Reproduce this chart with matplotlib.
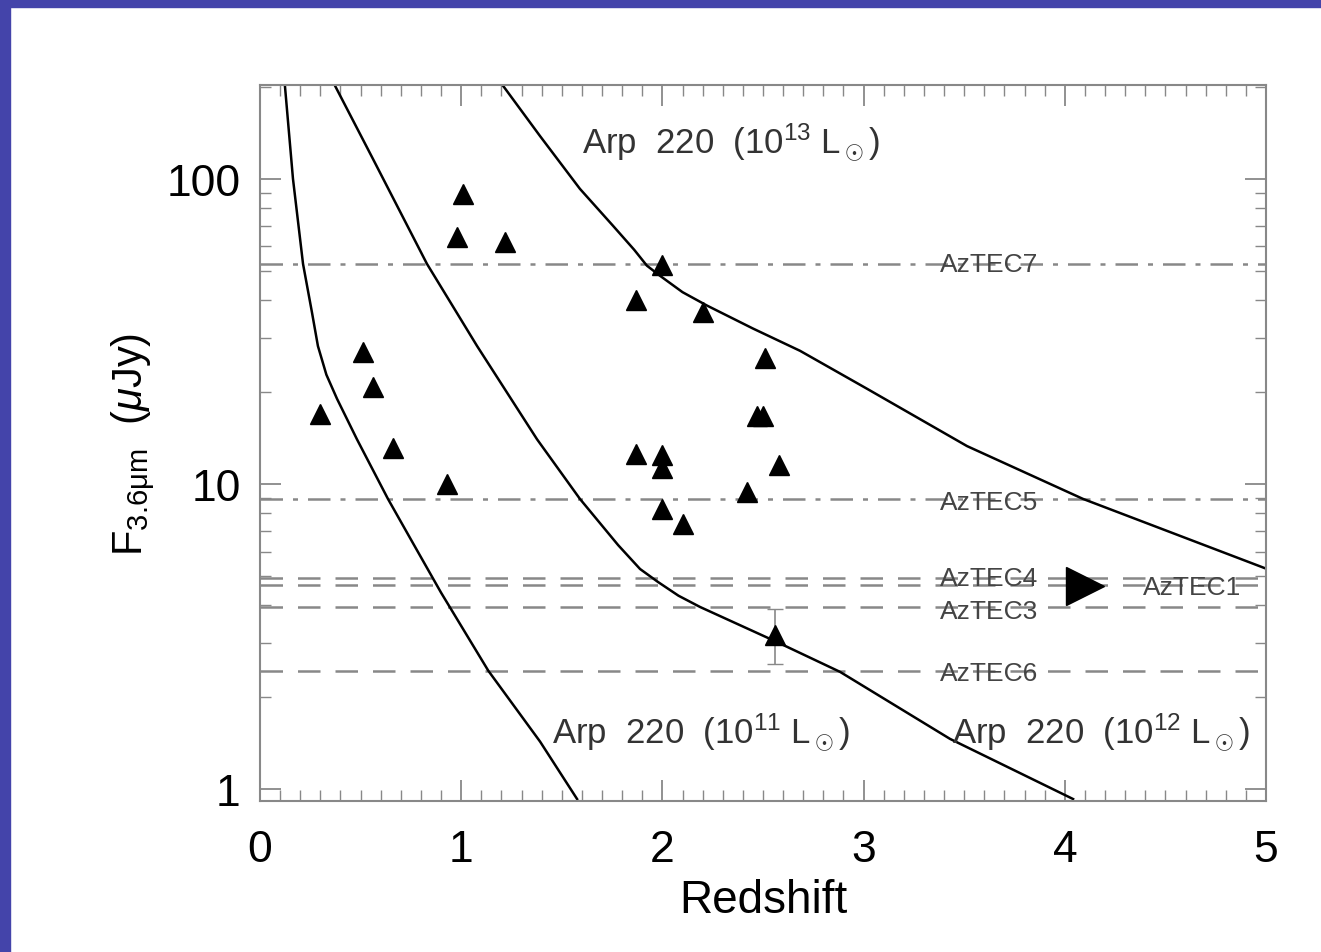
import numpy as np
import matplotlib
matplotlib.use("Agg")
import matplotlib.pyplot as plt
from matplotlib.patches import Rectangle
from matplotlib.ticker import MultipleLocator, LogLocator, NullFormatter, FixedLocator

plt.rcParams['font.family'] = ['Liberation Sans', 'DejaVu Sans']
plt.rcParams['mathtext.fontset'] = 'custom'
plt.rcParams['mathtext.rm'] = 'Liberation Sans'
plt.rcParams['mathtext.it'] = 'Liberation Sans:italic'

# sources (redshift, F 3.6um in uJy)
src_z = [0.30, 0.51, 0.56, 0.66, 0.93, 0.98, 1.01, 1.22, 1.87, 2.00, 2.20, 2.51,
         2.47, 2.50, 2.58, 2.42, 1.87, 2.00, 2.00, 2.00, 2.10]
src_f = [17.0, 27.1, 20.8, 13.1, 10.0, 64.6, 89.3, 62.1, 40.1, 52.2, 36.6, 25.9,
         16.7, 16.7, 11.5, 9.4, 12.5, 12.4, 11.3, 8.3, 7.4]

# point with error bar
err_z = [2.56]
err_f = [3.2]
err_lo = [2.57]
err_hi = [3.89]

# AzTEC1 lower limit on redshift
aztec1_z = [4.10]
aztec1_f = [4.63]

# Arp 220 tracks
arp11_z = [0.124, 0.164, 0.214, 0.258, 0.288, 0.330, 0.383, 0.482, 0.636, 0.760, 0.900, 1.135, 1.392, 1.576]
arp11_f = [201.8, 100.0, 52.6, 36.6, 28.3, 22.8, 19.0, 14.0, 8.93, 6.40, 4.40, 2.44, 1.43, 0.927]
arp12_z = [0.373, 0.562, 0.830, 1.079, 1.377, 1.590, 1.780, 1.889, 1.978, 2.080, 2.187, 2.570, 2.883, 3.429, 4.041]
arp12_f = [201.8, 116.0, 52.6, 28.3, 14.0, 8.93, 6.30, 5.26, 4.77, 4.30, 3.95, 3.03, 2.42, 1.46, 0.927]
arp13_z = [1.208, 1.392, 1.590, 1.754, 1.860, 1.923, 1.988, 2.100, 2.222, 2.450, 2.684, 3.017, 3.514, 4.090, 5.005]
arp13_f = [201.8, 138.0, 92.7, 70.2, 58.5, 51.9, 48.1, 42.5, 38.4, 32.3, 27.3, 20.5, 13.3, 8.93, 5.26]

# AzTEC flux levels
aztec_names = ['AzTEC7', 'AzTEC5', 'AzTEC4', 'AzTEC1', 'AzTEC3', 'AzTEC6']
aztec_flux = [52.6, 8.93, 4.92, 4.66, 3.95, 2.44]
aztec_style = ['dashdot', 'dashdot', 'dashed', 'dashed', 'dashed', 'dashed']

fig = plt.figure(figsize=(13.21, 9.53), dpi=100)
fig.patches.append(Rectangle((0, 1 - 8 / 953), 1, 8 / 953, transform=fig.transFigure,
                             color='#4444aa', zorder=0))
fig.patches.append(Rectangle((0, 0), 10 / 1321, 1, transform=fig.transFigure,
                             color='#4444aa', zorder=0))

ax = fig.add_axes([0.1968, 0.1584, 0.9584 - 0.1968, 0.9098 - 0.1584])
ax.set_yscale('log')
ax.set_xlim(0, 5)
ax.set_ylim(0.913, 203)

grey = '#888888'
dash_styles = {'dashdot': (0, (9, 4, 2, 4)), 'dashed': (0, (9, 6))}
for name, f, ls in zip(aztec_names, aztec_flux, aztec_style):
    ax.axhline(f, color=grey, lw=1.8, ls=dash_styles[ls], zorder=1)

label_pos = {'AzTEC7': (3.38, 52.6), 'AzTEC5': (3.38, 8.75), 'AzTEC4': (3.38, 4.92),
             'AzTEC3': (3.38, 3.82), 'AzTEC6': (3.38, 2.40), 'AzTEC1': (4.39, 4.60)}
for name in aztec_names:
    x, y = label_pos[name]
    ax.text(x, y, name, fontsize=19, color='#444444', ha='left', va='center', zorder=3)

for zz, ff in [(arp11_z, arp11_f), (arp12_z, arp12_f), (arp13_z, arp13_f)]:
    ax.plot(zz, ff, color='black', lw=1.8, zorder=2)

ax.plot(src_z, src_f, '^', color='black', ms=14, zorder=4)
ax.errorbar(err_z, err_f, yerr=[[err_f[0] - err_lo[0]], [err_hi[0] - err_f[0]]],
            fmt='^', color='black', ms=14, ecolor=grey, elinewidth=1.2, capsize=6, zorder=4)
ax.plot(aztec1_z, aztec1_f, '>', color='black', ms=28, zorder=4)

txt = dict(fontsize=25, color='#333333', ha='left', va='center')
ax.text(1.60, 133, r'Arp  220  (10$^{13}$ L$_\odot$)', **txt)
ax.text(1.45, 1.55, r'Arp  220  (10$^{11}$ L$_\odot$)', **txt)
ax.text(3.44, 1.55, r'Arp  220  (10$^{12}$ L$_\odot$)', **txt)

for s in ax.spines.values():
    s.set_color(grey)
    s.set_linewidth(1.5)

ax.xaxis.set_major_locator(MultipleLocator(1))
ax.xaxis.set_minor_locator(MultipleLocator(0.1))
ax.yaxis.set_major_locator(FixedLocator([1, 10, 100]))
ax.yaxis.set_minor_locator(LogLocator(base=10, subs=np.arange(2, 10)))
ax.yaxis.set_minor_formatter(NullFormatter())
ax.set_yticklabels(['1', '10', '100'])
ax.tick_params(which='both', direction='in', top=True, right=True, color=grey,
               labelsize=32)
ax.tick_params(axis='x', pad=20)
ax.tick_params(axis='y', pad=14)
ax.tick_params(which='major', length=15, width=1.3)
ax.tick_params(which='minor', length=8, width=1.0)

ax.set_xlabel('Redshift', fontsize=33, labelpad=6)
ax.set_ylabel(r'F$_{\rm 3.6\mu m}$  ($\mu$Jy)', fontsize=30, labelpad=6)

plt.savefig('out.png', dpi=100)
